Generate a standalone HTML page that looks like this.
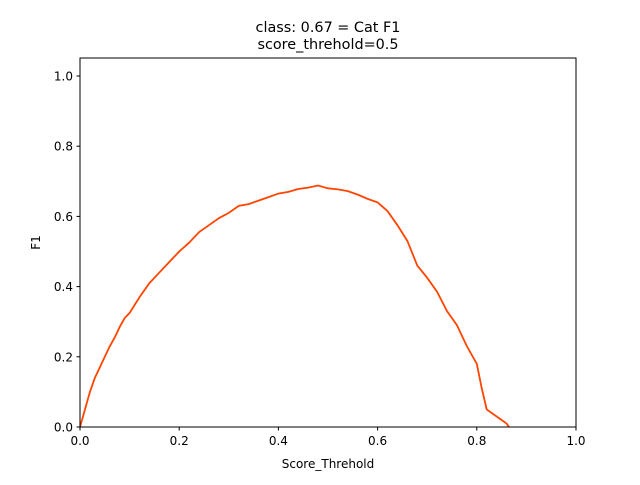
<!DOCTYPE html>
<html><head><meta charset="utf-8"><style>
body{margin:0;background:#fff}
svg text{font-family:"DejaVu Sans","Liberation Sans",sans-serif;fill:#000}
</style></head><body>
<svg id="chart" width="640" height="480">
<text x="328" y="32" font-size="14.4" text-anchor="middle">class: 0.67 = Cat F1</text>
<text x="328" y="49" font-size="14.4" text-anchor="middle">score_threhold=0.5</text>
<g id="plot"></g>
<rect x="80" y="58" width="496" height="369" fill="none" stroke="#000" stroke-width="1"/>
<text x="328" y="468" font-size="12" text-anchor="middle">Score_Threhold</text>
<text x="0" y="0" font-size="12" text-anchor="middle" transform="translate(40,242.5) rotate(-90)">F1</text>
</svg>
<script>
const xTicks=[0,0.2,0.4,0.6,0.8,1.0];
const yTicks=[0,0.2,0.4,0.6,0.8,1.0];
const scoreThresholds=[0,0.01,0.02,0.03,0.04,0.05,0.06,0.07,0.08,0.09,0.1,0.12,0.14,0.16,0.18,0.2,0.22,0.24,0.26,0.28,0.3,0.32,0.34,0.36,0.38,0.4,0.42,0.44,0.46,0.48,0.5,0.52,0.54,0.56,0.58,0.6,0.62,0.64,0.66,0.68,0.7,0.72,0.74,0.76,0.78,0.8,0.81,0.82,0.84,0.86,0.865];
const f1Values=[0,0.05,0.1,0.14,0.17,0.2,0.23,0.255,0.285,0.31,0.325,0.37,0.41,0.44,0.47,0.5,0.525,0.555,0.575,0.595,0.61,0.63,0.635,0.645,0.655,0.665,0.67,0.678,0.682,0.688,0.68,0.677,0.672,0.662,0.65,0.64,0.615,0.575,0.53,0.46,0.425,0.385,0.33,0.29,0.23,0.18,0.11,0.05,0.03,0.01,0];
const X=v=>80+v*496, Y=v=>427-v*351;
const ns="http://www.w3.org/2000/svg", g=document.getElementById('plot');
function mk(t,a){const e=document.createElementNS(ns,t);for(const k in a)e.setAttribute(k,a[k]);g.appendChild(e);return e;}
xTicks.forEach(t=>{
 const l=mk('line',{x1:X(t),x2:X(t),y1:427,y2:430.5,stroke:'#000'});
 
 
 const s=mk('text',{x:X(t),y:445,'font-size':12,'text-anchor':'middle'});s.textContent=t.toFixed(1);
 
 
});
yTicks.forEach(t=>{
 const l=mk('line',{x1:76.5,x2:80,y1:Y(t),y2:Y(t),stroke:'#000'});
 
 
 const s=mk('text',{x:73,y:Y(t)+4.5,'font-size':12,'text-anchor':'end'});s.textContent=t.toFixed(1);
 
 
});
const p=mk('polyline',{points:scoreThresholds.map((x,i)=>X(x)+','+Y(f1Values[i])).join(' '),fill:'none',stroke:'#ff4500','stroke-width':1.8});


</script>
</body></html>
